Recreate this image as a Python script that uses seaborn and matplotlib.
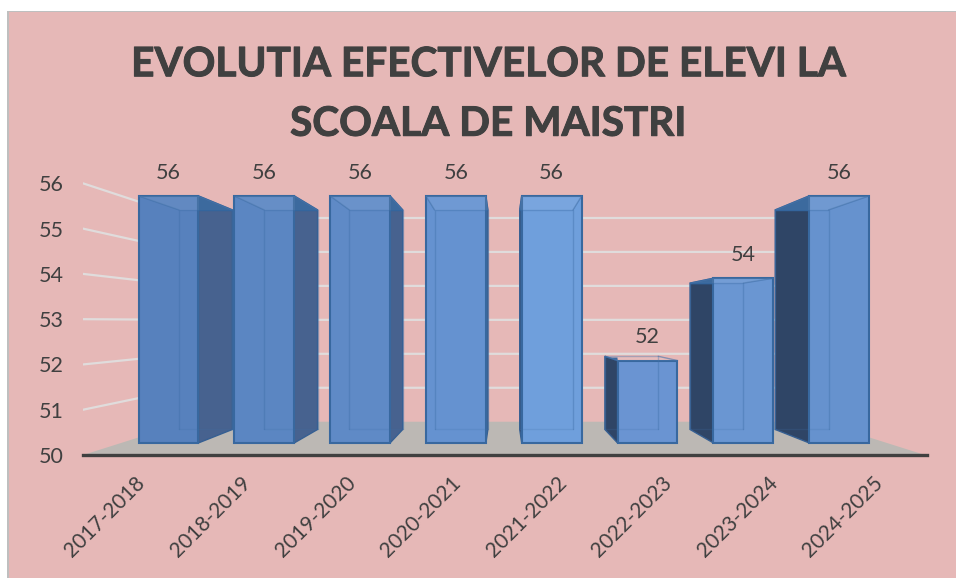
import matplotlib
matplotlib.use("Agg")
import matplotlib.pyplot as plt
import matplotlib.patheffects as pe
from matplotlib.patches import Polygon, Rectangle
import seaborn as sns
import pandas as pd

years = ["2017-2018", "2018-2019", "2019-2020", "2020-2021",
         "2021-2022", "2022-2023", "2023-2024", "2024-2025"]
students = [56, 56, 56, 56, 56, 52, 54, 56]
y_ticks = [50, 51, 52, 53, 54, 55, 56]
title = "EVOLUTIA EFECTIVELOR DE ELEVI LA\nSCOALA DE MAISTRI"

bar_colors = ["#5781BD", "#5B86C2", "#5F8AC6", "#6592D0", "#6F9FDC", "#6A94D2", "#6A96D2", "#6692CE"]

base = 50
bar_w = 0.626
# perspective: everything converges on this point (data coords)
vx, vy = 3.5, 52.94
r_back = 0.111    # back of the bars
r_wall = 0.175    # back wall
r_front = -0.1    # front edge of the floor

# pixel calibration of the front plane
px_x0, px_step = 168.5, 95.8
px_y0, px_unit = 443, 41.17


def proj(x, y, r):
    return x + (vx - x) * r, y + (vy - y) * r


def to_x(px):
    return (px - px_x0) / px_step


def to_y(px):
    return base + (px_y0 - px) / px_unit


sns.set_style("white")
plt.rcParams["font.family"] = ["Lato", "DejaVu Sans"]

fig = plt.figure(figsize=(9.56, 5.78), dpi=100, facecolor="white")
# pink panel with its grey top and left border
fig.add_artist(Rectangle((7 / 956, 0), 949 / 956, 1 - 11 / 578, transform=fig.transFigure,
                         facecolor="#BFBFBF", edgecolor="none", zorder=-2))
fig.add_artist(Rectangle((9 / 956, 0), 947 / 956, 1 - 12 / 578, transform=fig.transFigure,
                         facecolor="#E6B8B7", edgecolor="none", zorder=-1))
ax = fig.add_axes([83 / 956, 1 - 455 / 578, (927 - 83) / 956, (455 - 12) / 578])
ax.patch.set_alpha(0)

df = pd.DataFrame({"year": years, "height": [s - base for s in students]})
sns.barplot(data=df, x="year", y="height", hue="year", palette=bar_colors, legend=False,
            width=bar_w, bottom=base, saturation=1, edgecolor="#38689F", linewidth=1.5, zorder=5, ax=ax)

# floor
wall_l, wall_r = to_x(121.3), to_x(886.7)
corners = [proj(wall_l, base, r_front), proj(wall_r, base, r_front),
           proj(wall_r, base, r_wall), proj(wall_l, base, r_wall)]
ax.add_patch(Polygon(corners, facecolor="#BCB8B4", edgecolor="none", zorder=1))

# gridlines, left wall and back wall
for v in y_ticks[1:]:
    x0, y0 = proj(wall_l, v, r_front)
    x1, y1 = proj(wall_l, v, r_wall)
    x2, y2 = proj(wall_r, v, r_wall)
    ax.plot([x0, x1, x2], [y0, y1, y2], color="#E0DCDC", lw=1.6, zorder=2, solid_joinstyle="miter")

# side faces and inner edges of the bars
for i, s in enumerate(students):
    left, right = i - bar_w / 2, i + bar_w / 2
    edge = right if i < vx else left
    side = "#47628F" if i < vx else "#2F4566"
    face = [(edge, base), (edge, s), proj(edge, s, r_back), proj(edge, base, r_back)]
    ax.add_patch(Polygon(face, facecolor=side, edgecolor="#365F92", lw=1, zorder=3))
    # darker strip along the top of the side face
    xb, yb = proj(edge, s, r_back)
    ax.add_patch(Polygon([(edge, s), (xb, yb), (xb, yb - 0.03), (edge, yb - 0.03)], facecolor="#2E5F97",
                         edgecolor="none", zorder=3))
    # back rectangle seen through the front face
    bl = proj(left, base, r_back)
    br = proj(right, base, r_back)
    tl = proj(left, s, r_back)
    tr = proj(right, s, r_back)
    ax.plot([bl[0], tl[0], tr[0], br[0]], [bl[1], tl[1], tr[1], br[1]],
            color="#3F6FA8", lw=1, alpha=0.4, zorder=6)
    ax.plot([bl[0], br[0]], [bl[1], br[1]], color="#3F6FA8", lw=1, alpha=0.2, zorder=6)
    ax.plot([left, tl[0]], [s, tl[1]], color="#3F6FA8", lw=1, alpha=0.6, zorder=6)
    ax.plot([right, tr[0]], [s, tr[1]], color="#3F6FA8", lw=1, alpha=0.6, zorder=6)
    # top panel a bit lighter
    ax.add_patch(Polygon([(left, s), (right, s), tr, tl], facecolor="white", alpha=0.07,
                         edgecolor="none", zorder=6))

for container, s in zip(ax.containers, students):
    ax.bar_label(container, labels=[str(s)], padding=9.5, fontsize=15.5, color="#404040")

ax.set_xlim(to_x(83), to_x(927))
ax.set_ylim(to_y(455), to_y(12))

tick_x = [proj(i, base, r_front)[0] for i in range(len(years))]
ax.set_xticks(tick_x, labels=years, rotation=45, ha="right", rotation_mode="anchor")
ax.set_yticks([proj(0, v, r_front)[1] for v in y_ticks], labels=[str(v) for v in y_ticks])
ax.tick_params(axis="x", length=0, pad=13, labelsize=15, labelcolor="#404040")
ax.tick_params(axis="y", length=0, pad=14, labelsize=15.5, labelcolor="#404040")
ax.set_xlabel("")
ax.set_ylabel("")
sns.despine(ax=ax, left=True, top=True, right=True)
ax.spines["bottom"].set_color("#404040")
ax.spines["bottom"].set_linewidth(2.4)

fig.text(488 / 956, 1 - 94.5 / 578, title, ha="center", va="center", fontsize=29.2, fontweight="bold",
         color="#404040", linespacing=1.75,
         path_effects=[pe.withStroke(linewidth=0.7, foreground="#404040")])

fig.savefig("out.png", dpi=100)
